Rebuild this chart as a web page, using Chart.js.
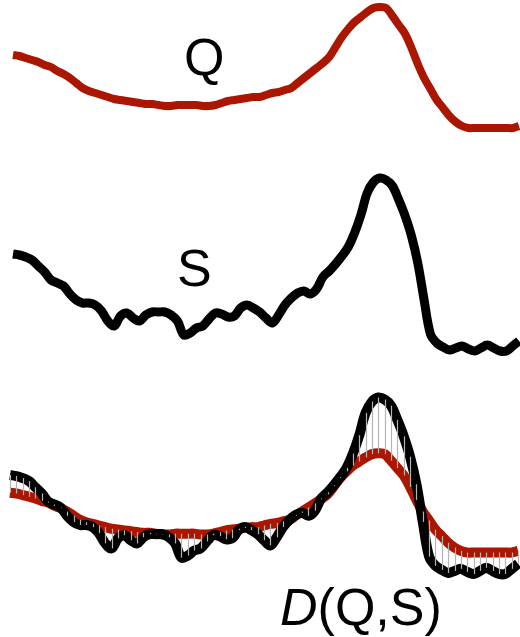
<!DOCTYPE html>
<html>
<head>
<meta charset="utf-8">
<script src="https://cdn.jsdelivr.net/npm/chart.js@4/dist/chart.umd.min.js"></script>
<style>
  html, body { margin: 0; padding: 0; background: #fff; }
  .wrap { position: relative; width: 520px; height: 637px; overflow: hidden; }
  canvas { position: absolute; left: 0; top: 0; }
  .label {
    position: absolute;
    font-family: 'Liberation Sans', Arial, sans-serif;
    font-size: 52px;
    line-height: 52px;
    color: #000;
    white-space: nowrap;
  }
</style>
</head>
<body>
<div class="wrap">
  <canvas id="chart" width="520" height="637"></canvas>
  <div class="label" style="left:184px;top:31px">Q</div>
  <div class="label" style="left:177px;top:242px">S</div>
  <div class="label" style="left:280px;top:581px"><i>D</i>(Q,S)</div>
</div>
<script>
'use strict';

// sample positions along the time axis
const samples = Array.from({ length: 81 }, (_, i) => i);

// query Q (smooth, red)
const queryQ = [
  73, 72, 70, 68, 66, 63, 61, 57, 54, 50,
  45, 40, 37, 35, 33, 31, 29, 28, 27, 26,
  25, 24, 24, 23, 22, 22, 23, 23, 23, 23,
  22, 22, 23, 25, 27, 28, 29, 30, 31, 31,
  33, 35, 36, 38, 40, 45, 50, 55, 60, 65,
  71, 81, 91, 99, 106, 111, 116, 120, 121, 120,
  112, 103, 94, 80, 64, 50, 39, 28, 20, 12,
  6, 2, 0, 0, 0, 0, 0, 0, 0, 0,
  2,
];

// series S (noisy, black)
const seriesS = [
  98, 97, 95, 92, 86, 80, 72, 69, 66, 58,
  52, 49, 49, 47, 41, 31, 26, 36, 39, 34,
  31, 37, 40, 40, 40, 37, 31, 17, 19, 24,
  26, 33, 39, 38, 35, 36, 44, 47, 44, 40,
  34, 29, 37, 47, 54, 59, 61, 58, 63, 75,
  81, 88, 96, 105, 119, 137, 159, 170, 174, 172,
  166, 152, 136, 116, 89, 52, 18, 9, 5, 2,
  4, 6, 3, 1, 4, 7, 4, 1, 1, 6,
  11,
];

const red = '#aa1600';
const black = '#000000';
const gapGray = '#b4b4b4';

const toPoints = vals => vals.map((v, i) => ({ x: samples[i], y: v }));

// vertical hatching between Q and S in the bottom panel
const gapLines = {
  id: 'gapLines',
  afterDatasetsDraw(chart) {
    const { ctx, scales } = chart;
    ctx.save();
    ctx.strokeStyle = gapGray;
    ctx.lineWidth = 1.2;
    samples.forEach(i => {
      const x = Math.round(scales.xb.getPixelForValue(i)) + 0.5;
      const y1 = scales.yQb.getPixelForValue(queryQ[i]);
      const y2 = scales.ySb.getPixelForValue(seriesS[i]);
      ctx.beginPath();
      ctx.moveTo(x, y1);
      ctx.lineTo(x, y2);
      ctx.stroke();
    });
    ctx.restore();
  },
};

const line = (data, color, width, xAxisID, yAxisID, order) => ({
  data: toPoints(data),
  borderColor: color,
  borderWidth: width,
  pointRadius: 0,
  tension: 0.35,
  borderCapStyle: 'butt',
  borderJoinStyle: 'round',
  fill: false,
  clip: false,
  xAxisID,
  yAxisID,
  order,
});

const hidden = (min, max) => ({ type: 'linear', display: false, min, max });

new Chart(document.getElementById('chart'), {
  type: 'line',
  data: {
    datasets: [
      line(queryQ, red, 8, 'x', 'yQ', 1),
      line(seriesS, black, 9, 'x', 'yS', 1),
      line(seriesS, black, 10, 'xb', 'ySb', 2),
      line(queryQ, red, 10, 'xb', 'yQb', 3),
    ],
  },
  options: {
    responsive: false,
    animation: false,
    devicePixelRatio: 1,
    events: [],
    layout: { padding: 0 },
    plugins: {
      legend: { display: false },
      tooltip: { enabled: false },
    },
    scales: {
      x: hidden(-2.055, 80.16),
      xb: hidden(-1.575, 80.31),
      yQ: hidden(-509, 128),
      yS: hidden(-285, 352),
      yQb: hidden(-103, 673.8),
      ySb: hidden(-60.8, 563.7),
    },
  },
  plugins: [gapLines],
});
</script>
</body>
</html>
